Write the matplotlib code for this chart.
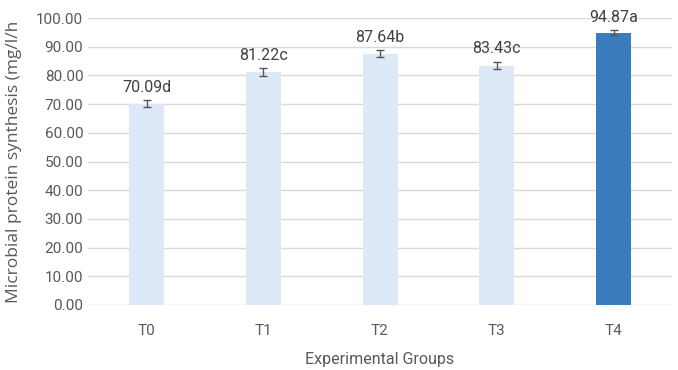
import matplotlib.pyplot as plt
import numpy as np

groups = ['T0', 'T1', 'T2', 'T3', 'T4']
values = [70.09, 81.22, 87.64, 83.43, 94.87]
errors = [1.2, 1.3, 1.1, 1.3, 0.9]
letters = ['d', 'c', 'b', 'c', 'a']
colors = ['#dde9f6', '#dde9f6', '#dde9f6', '#dde9f6', '#3a7dbd']

fig = plt.figure(figsize=(6.78, 3.70), dpi=100)
ax = fig.add_axes([0.13, 0.176, 0.861, 0.775])

x = np.arange(len(groups))
ax.bar(x, values, width=0.3, color=colors, zorder=2)
ax.errorbar(x, values, yerr=errors, fmt='none', ecolor='#555555',
            elinewidth=1, capsize=3, capthick=1, zorder=3)

# value + significance letter above each bar
for xi, v, e, l in zip(x, values, errors, letters):
    ax.annotate(f'{v:.2f}{l}', (xi, v + e), xytext=(0, 4), textcoords='offset points',
                ha='center', va='bottom', fontsize=11.5, color='#404040',
                family='Roboto')

ax.set_xlim(-0.5, 4.5)
ax.set_ylim(0, 100)
ax.set_yticks(np.arange(0, 101, 10))
ax.set_yticklabels([f'{t:.2f}' for t in np.arange(0, 101, 10)], family='Roboto')
ax.set_xticks(x)
ax.set_xticklabels(groups, family='Roboto')
ax.tick_params(axis='both', length=0, labelsize=11, labelcolor='#595959')
ax.tick_params(axis='x', pad=14)
ax.grid(axis='y', color='#d9d9d9', linewidth=1, zorder=0)
ax.set_axisbelow(True)
for s in ax.spines.values():
    s.set_visible(False)

ax.set_xlabel('Experimental Groups', family='Roboto', fontsize=11.5, color='#595959', labelpad=10)
ax.set_ylabel('Microbial protein synthesis (mg/l/h', family='Open Sans', fontsize=12.5,
              color='#595959', labelpad=10)

plt.savefig('out.png', dpi=100)
